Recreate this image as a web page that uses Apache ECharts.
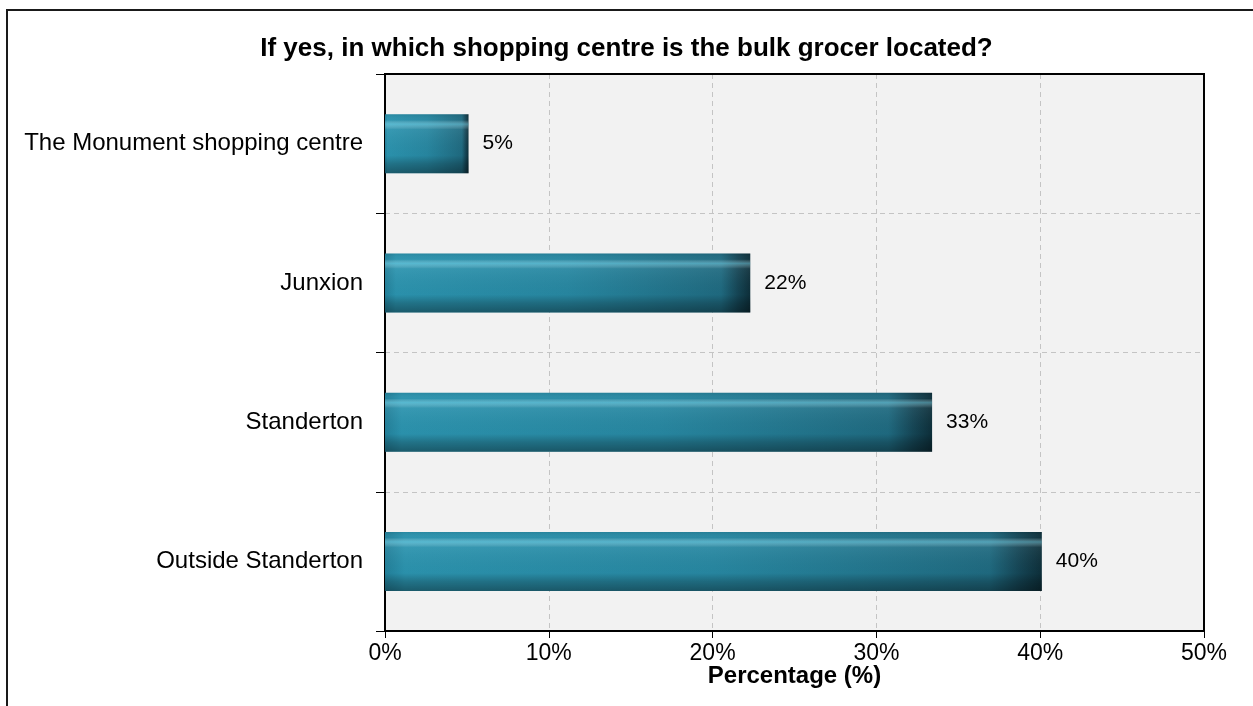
<!DOCTYPE html>
<html>
<head>
<meta charset="utf-8">
<script src="https://cdn.jsdelivr.net/npm/echarts@6/dist/echarts.min.js"></script>
<style>
html,body{margin:0;padding:0;background:#fff;}
#chart{width:1253px;height:706px;}
</style>
</head>
<body>
<div id="chart"></div>
<script>
const titleText = 'If yes, in which shopping centre is the bulk grocer located?';
const categories = ['The Monument shopping centre', 'Junxion', 'Standerton', 'Outside Standerton'];
const values = [5.1, 22.3, 33.4, 40.1];
const xTicks = { min: 0, max: 50, interval: 10 };
const xAxisName = 'Percentage (%)';

const FONT = 'Liberation Sans, Arial, Helvetica, sans-serif';
const chart = echarts.init(document.getElementById('chart'), null, { renderer: 'canvas' });

const dashed = { color: '#c4c4c4', type: [5, 4], width: 1 };

chart.setOption({
  animation: false,
  backgroundColor: '#ffffff',
  textStyle: { fontFamily: FONT },
  title: {
    text: titleText,
    left: 'center',
    top: 31,
    textStyle: { fontFamily: FONT, fontSize: 26, fontWeight: 'bold', color: '#000' }
  },
  graphic: [{
    type: 'rect',
    shape: { x: 7, y: 10, width: 1300, height: 800 },
    style: { fill: null, stroke: '#1a1a1a', lineWidth: 2 },
    silent: true,
    z: 0
  }],
  grid: {
    left: 385, right: 49, top: 74, bottom: 75,
    show: true,
    backgroundColor: '#f2f2f2',
    borderColor: '#000',
    borderWidth: 2
  },
  xAxis: [{
    type: 'value',
    min: xTicks.min, max: xTicks.max, interval: xTicks.interval,
    name: xAxisName,
    nameLocation: 'middle',
    nameGap: 33,
    nameMoveOverlap: false,
    nameTextStyle: { fontFamily: FONT, fontSize: 24, fontWeight: 'bold', color: '#000' },
    axisLine: { show: true, lineStyle: { color: '#000', width: 2 } },
    axisTick: { show: true, length: 7, lineStyle: { color: '#000', width: 1 } },
    axisLabel: { formatter: '{value}%', fontFamily: FONT, fontSize: 23, color: '#000', margin: 11 },
    splitLine: { show: true, showMinLine: false, showMaxLine: false, lineStyle: dashed }
  }, {
    type: 'value',
    position: 'top',
    min: xTicks.min, max: xTicks.max, interval: xTicks.interval,
    axisLine: { show: true, lineStyle: { color: '#000', width: 2 } },
    axisTick: { show: false },
    axisLabel: { show: false },
    splitLine: { show: false }
  }],
  yAxis: [{
    type: 'category',
    data: categories,
    inverse: true,
    axisLine: { show: true, lineStyle: { color: '#000', width: 2 } },
    axisTick: { show: true, length: 9, interval: 0, lineStyle: { color: '#000', width: 1 } },
    axisLabel: { fontFamily: FONT, fontSize: 24, color: '#000', margin: 22 },
    splitLine: { show: true, interval: 0, showMinLine: false, showMaxLine: false, lineStyle: dashed }
  }, {
    type: 'category',
    data: categories,
    inverse: true,
    position: 'right',
    axisLine: { show: true, lineStyle: { color: '#000', width: 2 } },
    axisTick: { show: false },
    axisLabel: { show: false },
    splitLine: { show: false }
  }],
  series: [
    {
      type: 'bar',
      data: values,
      barWidth: 59,
      z: 2,
      itemStyle: {
        color: {
          type: 'linear', x: 0, y: 0, x2: 1, y2: 0,
          colorStops: [
            { offset: 0, color: '#22809a' },
            { offset: 0.03, color: '#2b93ae' },
            { offset: 0.5, color: '#2787a1' },
            { offset: 0.92, color: '#1f6a80' },
            { offset: 0.965, color: '#154656' },
            { offset: 1, color: '#0d2f3a' }
          ]
        }
      },
      label: {
        show: true,
        position: 'right',
        distance: 14,
        formatter: p => Math.round(p.value) + '%',
        fontFamily: FONT,
        fontSize: 21,
        color: '#000'
      }
    },
    {
      type: 'bar',
      data: values,
      barWidth: 59,
      barGap: '-100%',
      silent: true,
      z: 3,
      itemStyle: {
        color: {
          type: 'linear', x: 0, y: 0, x2: 0, y2: 1,
          colorStops: [
            { offset: 0, color: 'rgba(0,0,0,0.08)' },
            { offset: 0.1, color: 'rgba(255,255,255,0.02)' },
            { offset: 0.17, color: 'rgba(140,230,250,0.45)' },
            { offset: 0.26, color: 'rgba(255,255,255,0.06)' },
            { offset: 0.7, color: 'rgba(0,0,0,0.02)' },
            { offset: 0.84, color: 'rgba(0,0,0,0.22)' },
            { offset: 1, color: 'rgba(0,0,0,0.38)' }
          ]
        }
      },
      label: { show: false }
    }
  ]
});
</script>
</body>
</html>
